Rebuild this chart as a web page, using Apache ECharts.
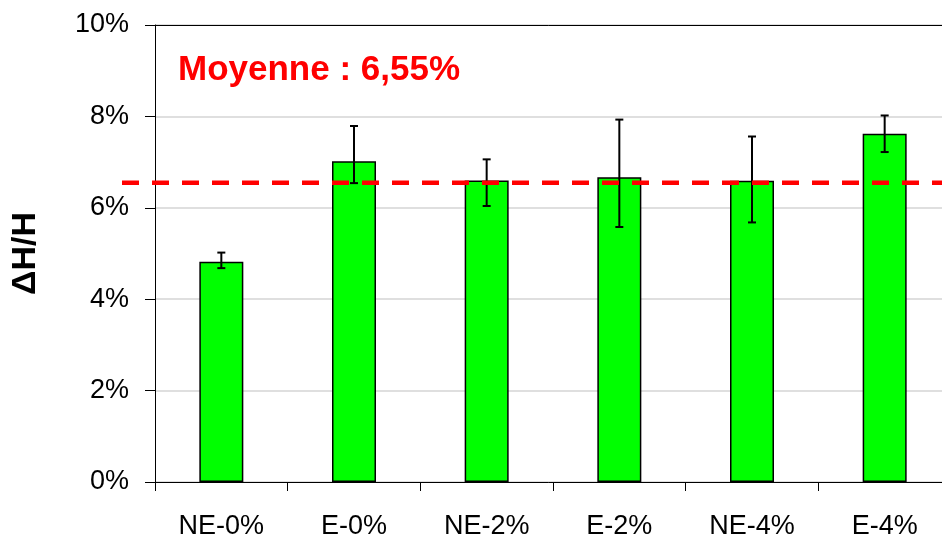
<!DOCTYPE html>
<html>
<head>
<meta charset="utf-8">
<script src="https://cdn.jsdelivr.net/npm/echarts@6/dist/echarts.min.js"></script>
<style>
  html, body { margin: 0; padding: 0; background: #fff; }
  #chart { width: 942px; height: 538px; }
</style>
</head>
<body>
<div id="chart"></div>
<script>
// Relative height change per sample (%)
const categories = ['NE-0%', 'E-0%', 'NE-2%', 'E-2%', 'NE-4%', 'E-4%'];
const values = [4.82, 7.02, 6.60, 6.67, 6.59, 7.62];
const errLow = [4.68, 6.54, 6.04, 5.58, 5.68, 7.22];
const errHigh = [5.02, 7.79, 7.06, 7.93, 7.56, 8.02];
const mean = 6.55;
const yTicks = [0, 2, 4, 6, 8, 10];

const FONT = '"Liberation Sans", Arial, sans-serif';
const chart = echarts.init(document.getElementById('chart'), null, { renderer: 'canvas' });

const meanLabel = 'Moyenne : ' + mean.toFixed(2).replace('.', ',') + '%';

chart.setOption({
  animation: false,
  backgroundColor: '#ffffff',
  grid: [
    { left: 155, width: 796, top: 25, bottom: 56, outerBoundsMode: 'none', containLabel: false },
    { left: 122, width: 829, top: 25, bottom: 56, outerBoundsMode: 'none', containLabel: false }
  ],
  xAxis: [
    {
      type: 'category', gridIndex: 0, data: categories, position: 'bottom',
      axisLine: { lineStyle: { color: '#000', width: 1 } },
      axisTick: { show: true, length: 9, lineStyle: { color: '#000' } },
      axisLabel: { color: '#000', fontSize: 27, fontFamily: FONT, margin: 31 }
    },
    {
      type: 'category', gridIndex: 0, data: categories, position: 'top',
      axisLine: { show: true, lineStyle: { color: '#000', width: 1 } },
      axisTick: { show: false }, axisLabel: { show: false }
    },
    { type: 'value', gridIndex: 1, min: 0, max: 1, show: false }
  ],
  yAxis: [
    {
      type: 'value', gridIndex: 0, min: yTicks[0], max: yTicks[yTicks.length - 1], interval: 2,
      name: 'ΔH/H', nameLocation: 'middle', nameRotate: 90, nameGap: 112,
      nameTextStyle: { color: '#000', fontSize: 34, fontWeight: 'bold', fontFamily: FONT },
      axisLine: { show: true, lineStyle: { color: '#000', width: 1 } },
      axisTick: { show: true, length: 10, lineStyle: { color: '#000' } },
      axisLabel: { color: '#000', fontSize: 27, fontFamily: FONT, margin: 26, formatter: v => v + '%' },
      splitLine: { show: true, lineStyle: { color: '#d4d4d4', width: 1.5 } }
    },
    { type: 'value', gridIndex: 1, min: 0, max: 10, show: false }
  ],
  graphic: [{
    type: 'text', left: 178, top: 53, z: 100,
    style: { text: meanLabel, fill: '#ff0000', font: 'bold 35px ' + FONT }
  }],
  series: [
    {
      type: 'bar', xAxisIndex: 0, yAxisIndex: 0, data: values, barWidth: 44,
      itemStyle: { color: '#00ff00', borderColor: '#000', borderWidth: 1.5 },
      z: 2
    },
    {
      type: 'custom', xAxisIndex: 0, yAxisIndex: 0, z: 3,
      data: categories.map((c, i) => [i, errLow[i], errHigh[i]]),
      renderItem: function (params, api) {
        const lo = api.coord([api.value(0), api.value(1)]);
        const hi = api.coord([api.value(0), api.value(2)]);
        const cap = 4;
        const style = { stroke: '#000', lineWidth: 2 };
        return {
          type: 'group',
          children: [
            { type: 'line', shape: { x1: lo[0], y1: lo[1], x2: hi[0], y2: hi[1] }, style },
            { type: 'line', shape: { x1: hi[0] - cap, y1: hi[1], x2: hi[0] + cap, y2: hi[1] }, style },
            { type: 'line', shape: { x1: lo[0] - cap, y1: lo[1], x2: lo[0] + cap, y2: lo[1] }, style }
          ]
        };
      }
    },
    {
      type: 'line', xAxisIndex: 2, yAxisIndex: 1, z: 5,
      data: [[0, mean], [1, mean]], symbol: 'none', silent: true,
      lineStyle: { color: '#ff0000', width: 4.5, type: [17, 13] }
    }
  ]
});
</script>
</body>
</html>
